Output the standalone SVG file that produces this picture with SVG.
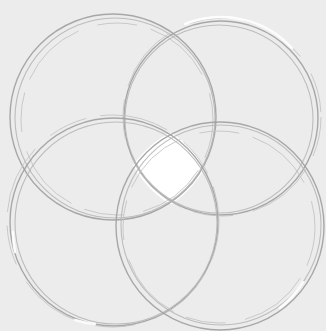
<svg xmlns="http://www.w3.org/2000/svg" width="326" height="331" viewBox="0 0 326 331">
<style>
.s1{fill:none;stroke:#a0a0a0;stroke-width:1.4;opacity:.9}
.s2{fill:none;stroke:#b4b4b4;stroke-width:1.1;opacity:.85}
.s3{fill:none;stroke:#c2c2c2;stroke-width:1;stroke-dasharray:40 14 70 20;opacity:.85}
.hl{fill:none;stroke:#ffffff;stroke-width:2.5;stroke-linecap:round;opacity:.9}
</style>
<defs>
<clipPath id="cTL"><circle cx="113" cy="117" r="105"/></clipPath>
<clipPath id="cTR"><circle cx="221" cy="118" r="100"/></clipPath>
<clipPath id="cBL"><circle cx="114" cy="222" r="106"/></clipPath>
<clipPath id="cBR"><circle cx="220" cy="226" r="106"/></clipPath>
</defs>
<rect width="326" height="331" fill="#ececec"/>
<g id="center-overlap">
<g clip-path="url(#cTL)"><g clip-path="url(#cTR)"><g clip-path="url(#cBL)"><g clip-path="url(#cBR)">
<rect width="326" height="331" fill="#ffffff"/>
</g></g></g></g>
</g>
<g id="circle-top-left">
<circle class="s1" cx="113" cy="117" r="103"/>
<circle class="s2" cx="115" cy="118" r="100"/>
<circle class="s3" cx="117" cy="119" r="96"/>
</g>
<g id="circle-top-right">
<circle class="s1" cx="221" cy="118" r="97"/>
<circle class="s2" cx="219" cy="119" r="94"/>
<circle class="s3" cx="222" cy="117" r="99"/>
<path class="hl" d="M185 24 A97 97 0 0 1 292 48"/>
</g>
<g id="circle-bottom-left">
<circle class="s1" cx="114" cy="222" r="104"/>
<circle class="s2" cx="116" cy="223" r="101"/>
<circle class="s3" cx="113" cy="221" r="106"/>
<path class="hl" d="M13 232 A104 104 0 0 0 15 252"/>
<path class="hl" d="M75 320 A104 104 0 0 0 95 324"/>
</g>
<g id="circle-bottom-right">
<circle class="s1" cx="220" cy="226" r="104"/>
<circle class="s2" cx="221" cy="225" r="100"/>
<circle class="s3" cx="219" cy="227" r="96"/>
<path class="hl" d="M303 282 A100 100 0 0 1 280 308"/>
</g>
<g id="connectors"/>
</svg>
